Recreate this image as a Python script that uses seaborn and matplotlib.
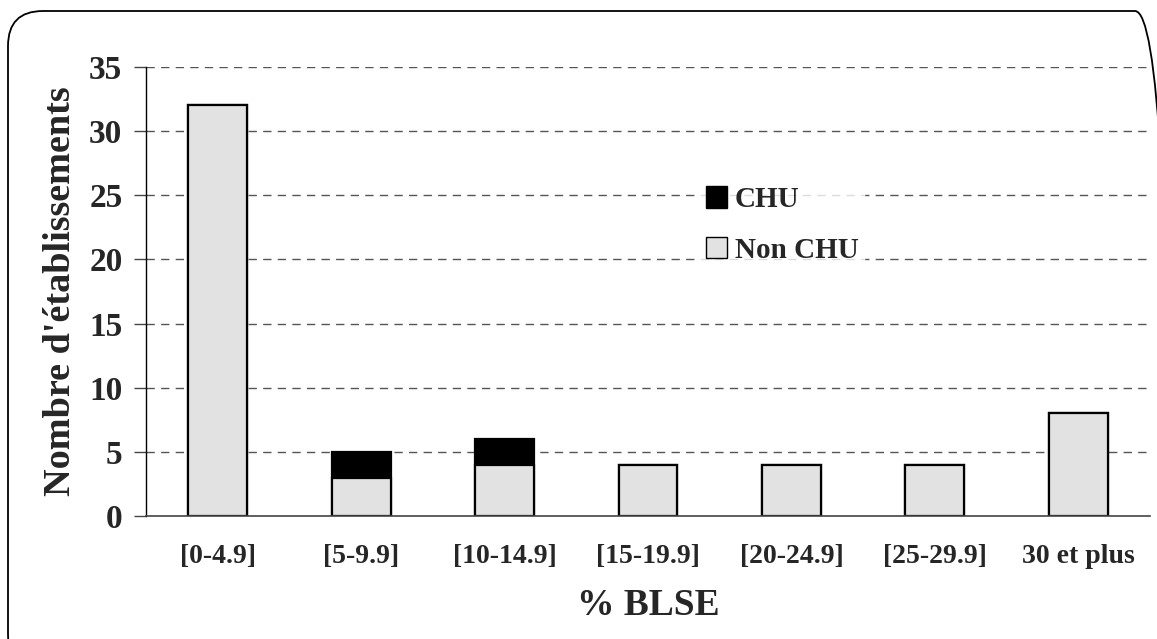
import matplotlib
matplotlib.use("Agg")
import matplotlib.pyplot as plt
import seaborn as sns
import pandas as pd
from matplotlib.patches import FancyBboxPatch, Patch

categories = ["[0-4.9]", "[5-9.9]", "[10-14.9]", "[15-19.9]", "[20-24.9]", "[25-29.9]", "30 et plus"]
non_chu = [32, 3, 4, 4, 4, 4, 8]
chu = [0, 2, 2, 0, 0, 0, 0]
y_ticks = [0, 5, 10, 15, 20, 25, 30, 35]

sns.set_theme(style="white")
plt.rcParams['font.family'] = ['Liberation Serif', 'DejaVu Serif']
plt.rcParams['font.weight'] = 'bold'

df = pd.DataFrame({"cat": categories, "non_chu": non_chu, "chu": chu})
df["total"] = df["non_chu"] + df["chu"]

fig = plt.figure(figsize=(11.57, 6.39), dpi=100)
ax = fig.add_axes([146/1157, 1-516/639, (1150-146)/1157, (516-67)/639])

fill = "#e2e2e2"
sns.barplot(data=df, x="cat", y="total", color="black", width=0.41,
            edgecolor="black", linewidth=1.6, saturation=1, ax=ax, zorder=3)
sns.barplot(data=df, x="cat", y="non_chu", color=fill, width=0.41,
            edgecolor="black", linewidth=1.6, saturation=1, ax=ax, zorder=4)

ax.set_xlim(-0.5, 6.5)
ax.set_ylim(0, 35)
ax.set_yticks(y_ticks)
ax.set_yticklabels([str(v) for v in y_ticks], fontsize=24, fontweight='bold')
ax.set_xticks(range(len(categories)))
ax.set_xticklabels(categories, fontsize=20, fontweight='bold')
ax.tick_params(axis='x', which='major', length=0, pad=20)
ax.set_xticks([i + 0.5 for i in range(len(categories))], minor=True)
ax.tick_params(axis='x', which='minor', length=8, width=1, color="#444444", direction='out')
ax.tick_params(axis='y', which='major', length=9, width=1, color="#444444", direction='out', pad=8, left=True)

for v in y_ticks[1:]:
    ax.axhline(v, color="#555555", linestyle=(0, (6, 4.5)), linewidth=1, zorder=1)

for s in ["top", "right"]:
    ax.spines[s].set_visible(False)
ax.spines["left"].set_color("black")
ax.spines["left"].set_linewidth(1)
ax.spines["bottom"].set_color("#444444")
ax.spines["bottom"].set_linewidth(1.2)
ax.spines["bottom"].set_zorder(5)

ax.set_xlabel("% BLSE", fontsize=27, fontweight='bold', labelpad=14)
ax.set_ylabel("Nombre d'établissements", fontsize=27.5, fontweight='bold', labelpad=8)

handles = [Patch(facecolor="black", edgecolor="black", label="CHU"),
           Patch(facecolor=fill, edgecolor="black", label="Non CHU")]
leg = ax.legend(handles=handles, loc="upper left", bbox_to_anchor=(0.537, 0.78),
                frameon=True, fontsize=21, handlelength=0.75, handleheight=0.75,
                handletextpad=0.25, labelspacing=0.8, borderpad=0.2)
leg.get_frame().set_facecolor("white")
leg.get_frame().set_edgecolor("white")
leg.set_zorder(6)
for t in leg.get_texts():
    t.set_fontweight('bold')

border = FancyBboxPatch((0.08, -0.3), 11.62, 6.28 + 0.3,
                        boxstyle="round,pad=0,rounding_size=0.35",
                        transform=fig.dpi_scale_trans, fill=False,
                        edgecolor="black", linewidth=1.3)
fig.patches.append(border)

fig.savefig("out.png", dpi=100)
